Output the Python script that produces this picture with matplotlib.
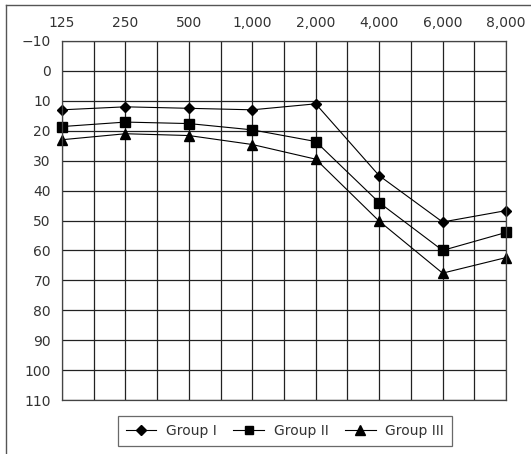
import numpy as np
import matplotlib.pyplot as plt
from matplotlib.lines import Line2D

freqs   = ['125', '250', '500', '1,000', '2,000', '4,000', '6,000', '8,000']
group1  = [13, 12, 12.5, 13, 11, 35, 50.5, 46.7]
group2  = [18.6, 17.1, 17.6, 19.7, 23.6, 44, 60, 54]
group3  = [23, 21, 21.6, 24.6, 29.5, 50.2, 67.6, 62.4]
labels  = ['Group I', 'Group II', 'Group III']
yticks  = np.arange(-10, 111, 10)

fig = plt.figure(figsize=(5.31, 4.54), dpi=100)
ax  = fig.add_axes([62/531, 1-400/454, (506-62)/531, (400-41)/454])

x = np.arange(len(freqs))
ax.plot(x, group1, '-', color='black', lw=0.8, marker='D', ms=5.5, clip_on=False, label=labels[0])
ax.plot(x, group2, '-', color='black', lw=0.8, marker='s', ms=7, clip_on=False, label=labels[1])
ax.plot(x, group3, '-', color='black', lw=0.8, marker='^', ms=7.5, clip_on=False, label=labels[2])

ax.set_xlim(0, len(freqs)-1)
ax.set_ylim(110, -10)
ax.set_xticks(x)
ax.set_xticks(np.arange(0.5, len(freqs)-1, 1), minor=True)
ax.set_xticklabels(freqs)
ax.set_yticks(yticks)
ax.set_yticklabels(['\u221210' if v < 0 else str(v) for v in yticks])
ax.xaxis.tick_top()
ax.tick_params(axis='both', which='both', length=0, labelsize=10, colors='#333333')
ax.tick_params(axis='x', pad=8)
ax.tick_params(axis='y', pad=8)
ax.grid(True, which='both', color='#222222', lw=0.9)
ax.set_axisbelow(True)
for s in ax.spines.values():
    s.set_color('#444444')
    s.set_linewidth(0.9)

leg = ax.legend(loc='center', bbox_to_anchor=(285/531, 1-431/454), bbox_transform=fig.transFigure,
                ncol=3, frameon=True, fancybox=False, fontsize=10, handlelength=2.2,
                columnspacing=1.2, handletextpad=0.7, borderpad=0.55, markerscale=0.9)
leg.get_frame().set_edgecolor('#444444')
leg.get_frame().set_linewidth(0.9)
for t in leg.get_texts():
    t.set_color('#333333')

# outer frame
fig.add_artist(Line2D([6/531, 6/531], [0, 1-5/454], color='#555555', lw=1, transform=fig.transFigure))
fig.add_artist(Line2D([6/531, 1], [1-5/454, 1-5/454], color='#555555', lw=1, transform=fig.transFigure))

fig.savefig('out.png', dpi=100)
